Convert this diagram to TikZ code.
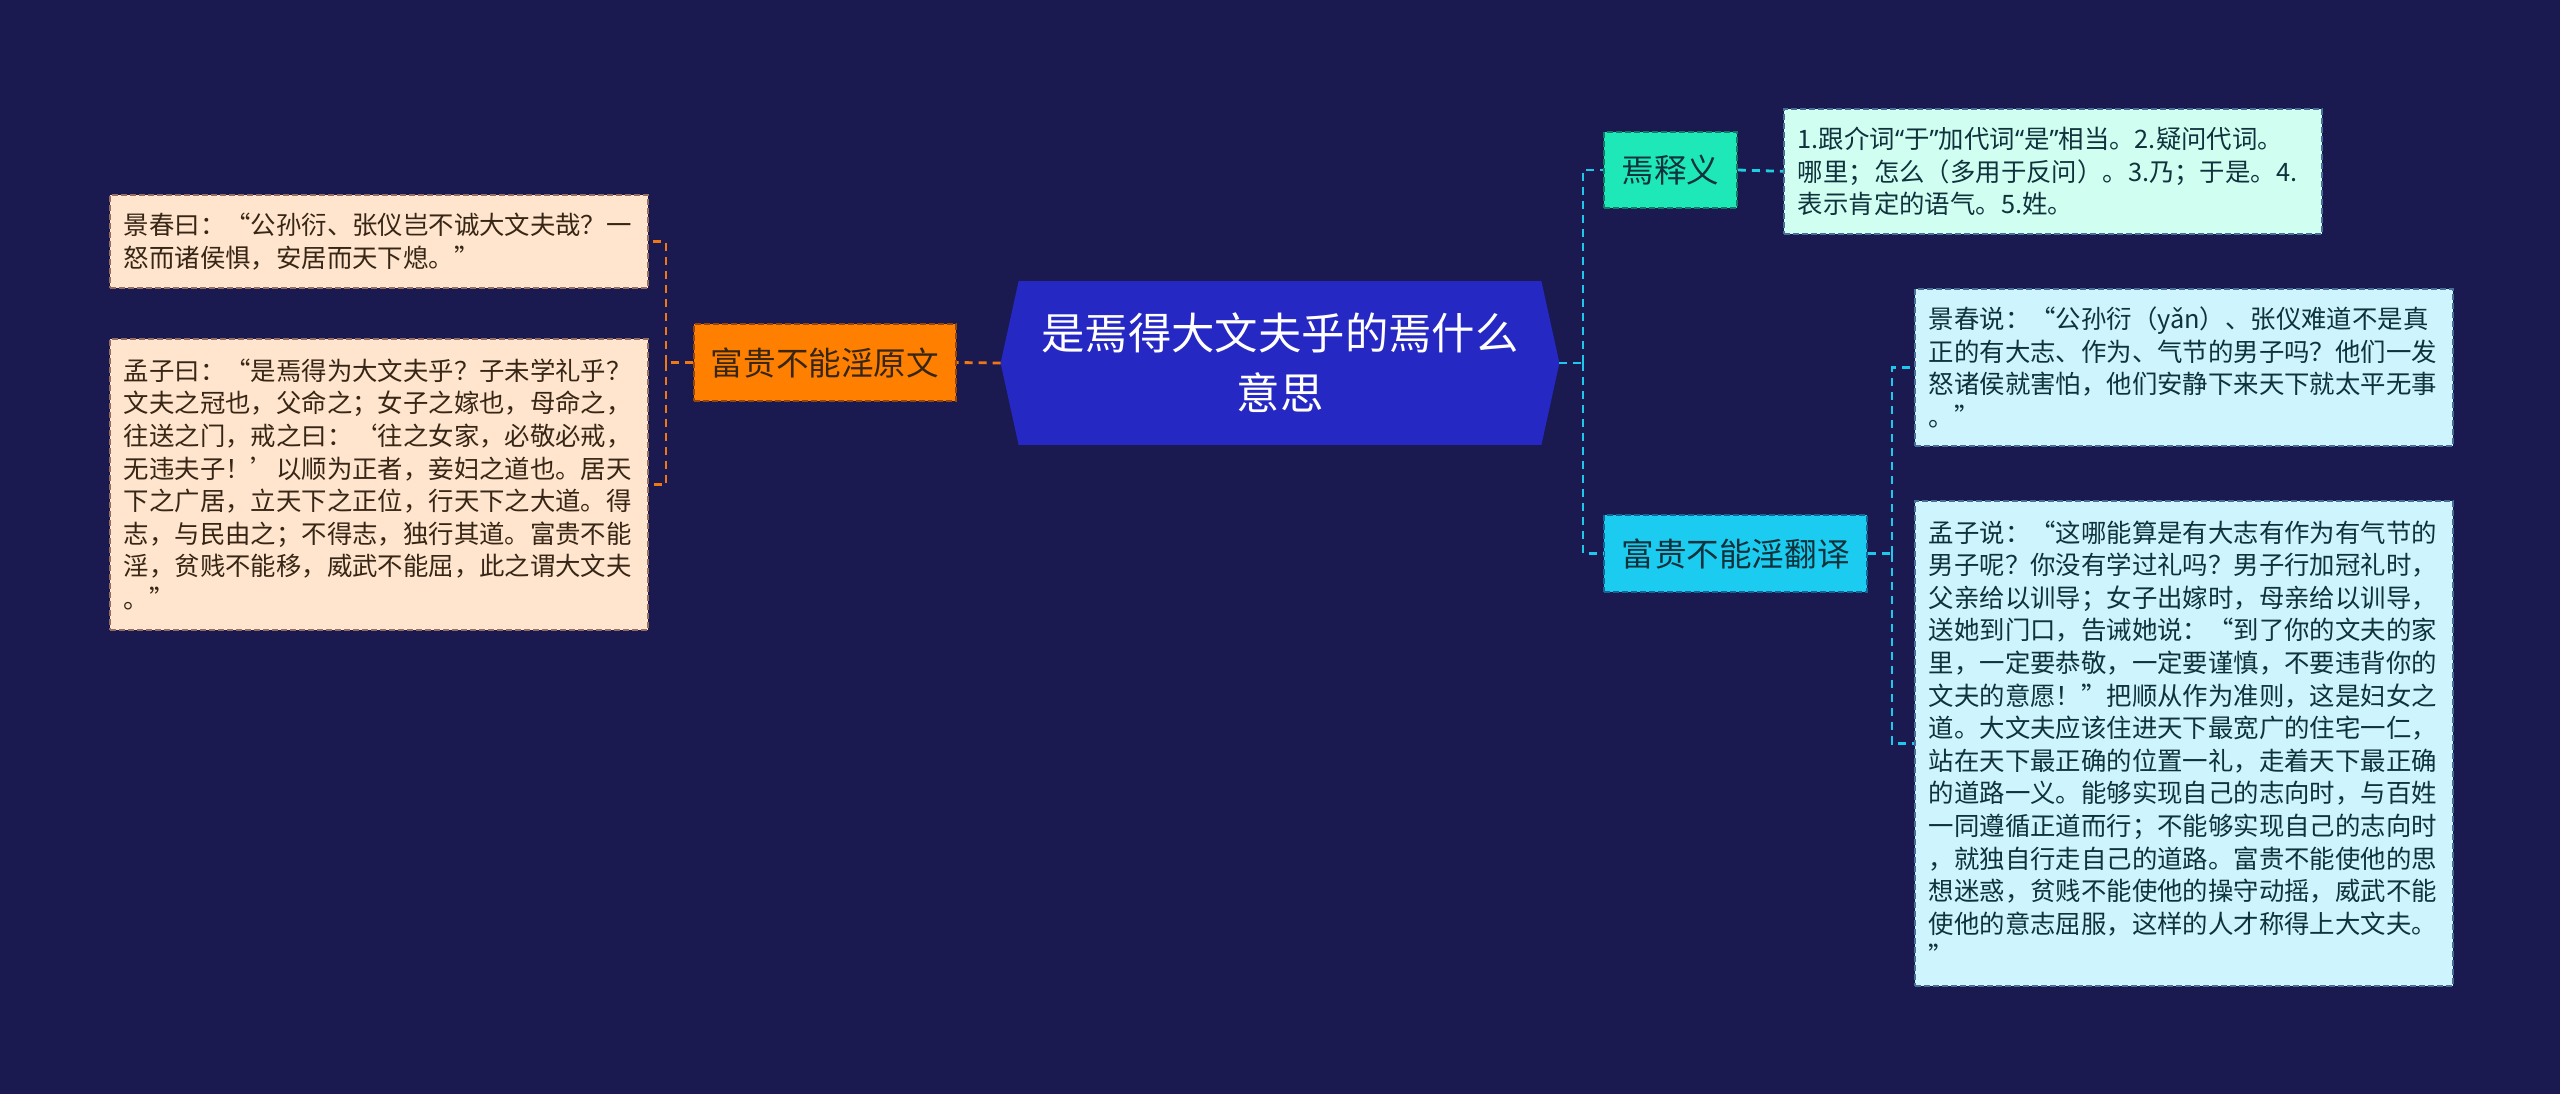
\documentclass[tikz,border=0pt]{standalone}
\usepackage{fontspec}
\setmainfont{Noto Sans CJK SC}
\newfontfamily\latq{Noto Sans}
\newcommand\myquote[1]{{\latq #1}}
\pgfdeclarelayer{background}
\pgfsetlayers{background,main}
\definecolor{bgc}{RGB}{26,25,80}
\definecolor{cfill}{RGB}{38,40,196}
\definecolor{ofill}{RGB}{255,128,0}
\definecolor{oborder}{RGB}{150,70,10}
\definecolor{oline}{RGB}{240,120,20}
\definecolor{peach}{RGB}{255,229,206}
\definecolor{peachborder}{RGB}{150,110,95}
\definecolor{peachtext}{RGB}{55,38,22}
\definecolor{tealfill}{RGB}{30,232,184}
\definecolor{tealborder}{RGB}{20,120,100}
\definecolor{mint}{RGB}{208,255,242}
\definecolor{cyanfill}{RGB}{28,204,240}
\definecolor{cyanborder}{RGB}{20,100,150}
\definecolor{lcyan}{RGB}{206,244,253}
\definecolor{lcyanborder}{RGB}{70,110,150}
\definecolor{cline}{RGB}{30,200,235}
\definecolor{ctext}{RGB}{15,50,60}
\begin{document}
\begin{tikzpicture}[x=0.5pt,y=-0.5pt,
  conn/.style={line width=1.4pt, dash pattern=on 4pt off 3pt},
  bdr/.style={line width=0.8pt, dash pattern=on 3pt off 1.5pt},
  textbox/.style={bdr, rectangle, anchor=north west, text width=255pt, inner xsep=7pt, inner ysep=0pt,
    align=left, font=\fontsize{12.7pt}{16.3pt}\selectfont, execute at begin node={\parindent=0pt}},
  midnode/.style={bdr, rectangle, inner sep=0pt, font=\fontsize{16.3pt}{20pt}\selectfont},
  titlenode/.style={rectangle, inner sep=0pt, minimum width=279pt, minimum height=81.5pt,
    align=center, text=white, font=\fontsize{21.7pt}{30pt}\selectfont}
]
\useasboundingbox (0,0) rectangle (2560,1094);

% central node
\node[titlenode] (c) at (1280,363) {是焉得大文夫乎的焉什么\\意思};

% left branch
\node[midnode, fill=ofill, draw=oborder, text=peachtext, minimum width=131pt, minimum height=38.5pt] (o) at (825,362.5) {富贵不能淫原文};
\node[textbox, fill=peach, draw=peachborder, text=peachtext, minimum height=46.5pt] (l1) at (109,194)
  {景春曰：“公孙衍、张仪岂不诚大文夫哉？一\\怒而诸侯惧，安居而天下熄。”};
\node[textbox, fill=peach, draw=peachborder, text=peachtext, minimum height=145.5pt] (l2) at (109,338)
  {孟子曰：“是焉得为大文夫乎？子未学礼乎？\\文夫之冠也，父命之；女子之嫁也，母命之，\\往送之门，戒之曰：‘往之女家，必敬必戒，\\无违夫子！’以顺为正者，妾妇之道也。居天\\下之广居，立天下之正位，行天下之大道。得\\志，与民由之；不得志，独行其道。富贵不能\\淫，贫贱不能移，威武不能屈，此之谓大文夫\\。”};

% right branch
\node[midnode, fill=tealfill, draw=tealborder, text=ctext, minimum width=66.5pt, minimum height=38pt] (y) at (1670.5,170) {焉释义};
\node[textbox, fill=mint, draw=lcyanborder, text=ctext, minimum height=62.5pt] (m) at (1783,108)
  {1.跟介词\myquote{“}于\myquote{”}加代词\myquote{“}是\myquote{”}相当。2.疑问代词。\\哪里；怎么（多用于反问）。3.乃；于是。4.\\表示肯定的语气。5.姓。};
\node[midnode, fill=cyanfill, draw=cyanborder, text=ctext, minimum width=131.5pt, minimum height=38.5pt] (t) at (1735.5,553.5) {富贵不能淫翻译};
\node[textbox, fill=lcyan, draw=lcyanborder, text=ctext, minimum height=78.5pt] (r1) at (1914,288)
  {景春说：“公孙衍（yǎn）、张仪难道不是真\\正的有大志、作为、气节的男子吗？他们一发\\怒诸侯就害怕，他们安静下来天下就太平无事\\。”};
\node[textbox, fill=lcyan, draw=lcyanborder, text=ctext, minimum height=242.5pt] (r2) at (1914,500)
  {孟子说：“这哪能算是有大志有作为有气节的\\男子呢？你没有学过礼吗？男子行加冠礼时，\\父亲给以训导；女子出嫁时，母亲给以训导，\\送她到门口，告诫她说：“到了你的文夫的家\\里，一定要恭敬，一定要谨慎，不要违背你的\\文夫的意愿！”把顺从作为准则，这是妇女之\\道。大文夫应该住进天下最宽广的住宅一仁，\\站在天下最正确的位置一礼，走着天下最正确\\的道路一义。能够实现自己的志向时，与百姓\\一同遵循正道而行；不能够实现自己的志向时\\，就独自行走自己的道路。富贵不能使他的思\\想迷惑，贫贱不能使他的操守动摇，威武不能\\使他的意志屈服，这样的人才称得上大文夫。\\”};

% junction coordinates
\coordinate (lj) at (666,362.5);
\coordinate (rj) at (1583,363);
\coordinate (tj) at (1892,553.5);

% background and central hexagon
\begin{pgfonlayer}{background}
\fill[bgc] (0,0) rectangle (2560,1094);
\fill[cfill] (c.west) -- ([xshift=9pt]c.north west) -- ([xshift=-9pt]c.north east) -- (c.east)
  -- ([xshift=-9pt]c.south east) -- ([xshift=9pt]c.south west) -- cycle;
\end{pgfonlayer}

% connectors
\draw[conn, draw=oline] (c.west) -- (o.east);
\draw[conn, draw=oline] (o.west) -- (lj);
\draw[conn, draw=oline] (lj) |- (l1.east);
\draw[conn, draw=oline] (lj) |- (l2.east);
\draw[conn, draw=cline] (c.east) -- (rj);
\draw[conn, draw=cline] (rj) |- (y.west);
\draw[conn, draw=cline] (rj) |- (t.west);
\draw[conn, draw=cline!80!tealfill] (y.east) -- (m.west);
\draw[conn, draw=cline] (t.east) -- (tj);
\draw[conn, draw=cline] (tj) |- (r1.west);
\draw[conn, draw=cline] (tj) |- (r2.west);
\end{tikzpicture}
\end{document}
